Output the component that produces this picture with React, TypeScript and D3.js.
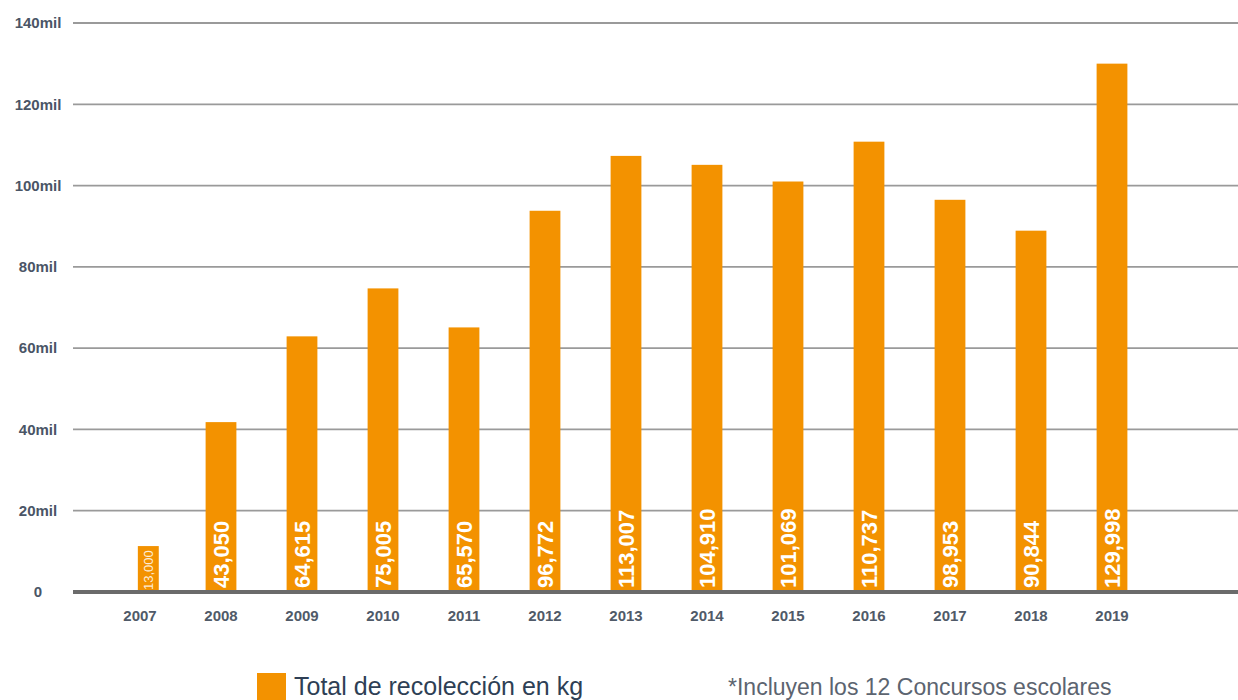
import React from "react"
import * as d3 from "d3"

const YEARS = ["2007", "2008", "2009", "2010", "2011", "2012", "2013", "2014", "2015", "2016", "2017", "2018", "2019"]
// bar heights as drawn in the picture (kg)
const BAR_VALUES = [11300, 41800, 62900, 74700, 65100, 93800, 107300, 105100, 101000, 110800, 96500, 88900, 130000]
// printed labels inside the bars
const BAR_LABELS = ["13,000", "43,050", "64,615", "75,005", "65,570", "96,772", "113,007", "104,910", "101,069", "110,737", "98,953", "90,844", "129,998"]
const Y_TICKS = [0, 20000, 40000, 60000, 80000, 100000, 120000, 140000]

const ORANGE = "#f39200"
const FONT = "'Liberation Sans', Arial, Helvetica, sans-serif"

export default function App() {
  const width = 1238
  const height = 700

  const x = d3
    .scaleBand<string>()
    .domain(YEARS)
    .range([99.5, 1152.5])
    .paddingInner(0.62)
    .paddingOuter(0.31)

  const y = d3.scaleLinear().domain([0, 140000]).range([592, 23])

  const tickLabel = (v: number) => (v === 0 ? "0" : `${v / 1000}mil`)

  return (
    <svg
      width={width}
      height={height}
      style={{ position: "absolute", left: 0, top: 0, background: "#fff" }}
      fontFamily={FONT}
    >
      {/* grid */}
      {Y_TICKS.filter(t => t > 0).map(t => (
        <line key={t} x1={73} x2={width} y1={y(t)} y2={y(t)} stroke="#9a9a9a" strokeWidth={1.8} />
      ))}
      {Y_TICKS.map(t => (
        <text
          key={"l" + t}
          x={38}
          y={y(t)}
          dy="0.35em"
          textAnchor="middle"
          fontSize={15}
          fontWeight={600}
          fill="#4a5566"
        >
          {tickLabel(t)}
        </text>
      ))}

      {/* bars */}
      {YEARS.map((yr, i) => {
        const band = x(yr) as number
        // the first bar is drawn thinner and a bit to the right
        const first = i === 0
        const bw = first ? x.bandwidth() * 0.68 : x.bandwidth()
        const bx = first ? band + x.bandwidth() * 0.43 : band
        return (
          <g key={yr}>
            <rect x={bx} y={y(BAR_VALUES[i])} width={bw} height={y(0) - y(BAR_VALUES[i])} fill={ORANGE} />
            <text
              transform={`translate(${bx + bw / 2}, ${first ? 590 : 588}) rotate(-90)`}
              dy="0.36em"
              fontSize={first ? 13 : 22}
              fontWeight={first ? 400 : 600}
              fill="#fff"
              fillOpacity={first ? 0.85 : 1}
            >
              {BAR_LABELS[i]}
            </text>
            <text
              x={band + x.bandwidth() / 2}
              y={621}
              textAnchor="middle"
              fontSize={15}
              fontWeight={600}
              fill="#505a68"
            >
              {yr}
            </text>
          </g>
        )
      })}

      {/* baseline */}
      <line x1={73} x2={width} y1={y(0)} y2={y(0)} stroke="#6b6b6b" strokeWidth={4} />

      {/* legend */}
      <rect x={257} y={673} width={29} height={30} fill={ORANGE} />
      <text x={294} y={695} fontSize={25} fill="#2e3f55">
        Total de recolección en kg
      </text>
      <text x={728} y={695} fontSize={23} fill="#5c6470">
        *Incluyen los 12 Concursos escolares
      </text>
    </svg>
  )
}
